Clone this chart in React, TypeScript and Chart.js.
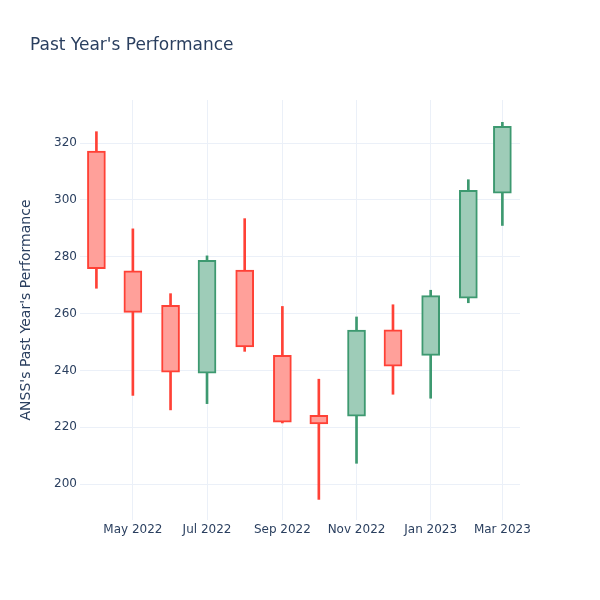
import { useEffect, useRef } from "react";
import { Chart, registerables } from "chart.js";

Chart.register(...registerables);

const titleText = "Past Year's Performance";
const yAxisTitle = "ANSS's Past Year's Performance";

const months = [
  "2022-04-01", "2022-05-01", "2022-06-01", "2022-07-01", "2022-08-01", "2022-09-01",
  "2022-10-01", "2022-11-01", "2022-12-01", "2023-01-01", "2023-02-01", "2023-03-01",
];
const opens = [317.2, 275.0, 262.9, 239.0, 275.3, 245.3, 224.2, 223.9, 254.3, 245.3, 265.4, 302.4];
const highs = [324.0, 289.8, 267.0, 280.3, 293.4, 262.5, 236.9, 258.8, 263.1, 268.2, 307.1, 327.3];
const lows = [268.9, 231.2, 226.1, 228.3, 246.7, 221.5, 194.6, 207.3, 231.6, 230.2, 263.8, 291.0];
const closes = [275.8, 260.4, 239.4, 278.7, 248.3, 221.8, 221.2, 254.2, 241.5, 266.3, 303.4, 325.9];

const xTickDates = ["2022-05-01", "2022-07-01", "2022-09-01", "2022-11-01", "2023-01-01", "2023-03-01"];
const xTickLabels = ["May 2022", "Jul 2022", "Sep 2022", "Nov 2022", "Jan 2023", "Mar 2023"];
const yTicks = [200, 220, 240, 260, 280, 300, 320];

const xMin = "2022-03-18T12:00:00Z";
const xMax = "2023-03-15T12:00:00Z";
const yMin = 187.35;
const yMax = 335.15;

const INC_LINE = "#3D9970";
const INC_FILL = "#9ECCB8";
const DEC_LINE = "#FF4136";
const DEC_FILL = "#FFA09A";
const TEXT = "#2a3f5f";
const GRID = "#EBF0F8";
const FONT = "'DejaVu Sans', sans-serif";

export default function App() {
  const ref = useRef<HTMLCanvasElement | null>(null);

  useEffect(() => {
    if (!ref.current) return;
    const xs = months.map((m) => Date.parse(m));
    const xTickValues = xTickDates.map((d) => Date.parse(d));
    const inc = xs.map((_, i) => closes[i] >= opens[i]);

    const bodies = (up: boolean) =>
      xs
        .map((x, i) => ({ x, y: [Math.min(opens[i], closes[i]), Math.max(opens[i], closes[i])] }))
        .filter((_, i) => inc[i] === up);
    const wicks = (up: boolean) =>
      xs.map((x, i) => ({ x, y: [lows[i], highs[i]] })).filter((_, i) => inc[i] === up);

    const titlePlugin = {
      id: "plotTitle",
      afterDraw(chart: any) {
        const ctx = chart.ctx;
        ctx.save();
        ctx.font = `17px ${FONT}`;
        ctx.fillStyle = TEXT;
        ctx.textAlign = "left";
        ctx.textBaseline = "alphabetic";
        ctx.fillText(titleText, 30, 50);
        ctx.restore();
      },
    };

    const bodyCommon = {
      grouped: false,
      barThickness: 18,
      borderWidth: 2,
      borderSkipped: false as const,
      order: 0,
    };
    const wickCommon = {
      grouped: false,
      barThickness: 2,
      borderWidth: 0,
      order: 1,
    };

    const chart = new Chart(ref.current, {
      type: "bar",
      data: {
        datasets: [
          { ...bodyCommon, data: bodies(true) as any, backgroundColor: INC_FILL, borderColor: INC_LINE },
          { ...bodyCommon, data: bodies(false) as any, backgroundColor: DEC_FILL, borderColor: DEC_LINE },
          { ...wickCommon, data: wicks(true) as any, backgroundColor: INC_LINE },
          { ...wickCommon, data: wicks(false) as any, backgroundColor: DEC_LINE },
        ],
      },
      options: {
        responsive: false,
        animation: false,
        layout: { padding: { left: 0, right: 80, top: 100, bottom: 0 } },
        plugins: {
          legend: { display: false },
          tooltip: { enabled: false },
          title: { display: false },
        },
        scales: {
          x: {
            type: "linear",
            min: Date.parse(xMin),
            max: Date.parse(xMax),
            offset: false,
            grid: { color: GRID, drawTicks: false, lineWidth: 1, offset: false },
            border: { display: false },
            ticks: {
              color: TEXT,
              font: { family: FONT, size: 12 },
              padding: 3,
              maxRotation: 0,
              autoSkip: false,
              callback: (v: any) => {
                const idx = xTickValues.indexOf(Number(v));
                return idx >= 0 ? xTickLabels[idx] : "";
              },
            },
            afterBuildTicks: (s: any) => {
              s.ticks = xTickValues.map((v) => ({ value: v }));
            },
            afterFit: (s: any) => {
              s.height = 80;
            },
          },
          y: {
            type: "linear",
            min: yMin,
            max: yMax,
            grid: { color: GRID, drawTicks: false, lineWidth: 1 },
            border: { display: false },
            ticks: {
              color: TEXT,
              font: { family: FONT, size: 12 },
              padding: 3,
              callback: (v: any) => String(v),
            },
            afterBuildTicks: (s: any) => {
              s.ticks = yTicks.map((v) => ({ value: v }));
            },
            afterFit: (s: any) => {
              s.width = 80;
            },
            title: {
              display: true,
              text: yAxisTitle,
              color: TEXT,
              font: { family: FONT, size: 14 },
              padding: { top: 18, bottom: 4 },
            },
          },
        },
      },
      plugins: [titlePlugin],
    });

    return () => chart.destroy();
  }, []);

  return (
    <div style={{ position: "absolute", left: 0, top: 0, width: 600, height: 600, background: "#fff" }}>
      <canvas ref={ref} width={600} height={600} style={{ width: 600, height: 600 }} />
    </div>
  );
}
